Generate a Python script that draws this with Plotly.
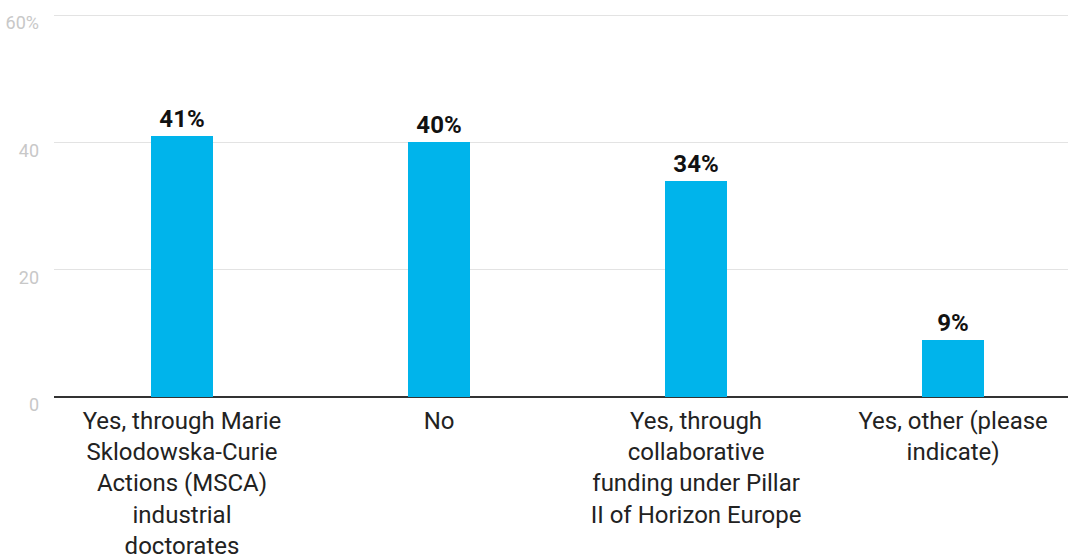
import plotly.graph_objects as go

categories = [
    "Yes, through Marie<br>Sklodowska-Curie<br>Actions (MSCA)<br>industrial<br>doctorates",
    "No",
    "Yes, through<br>collaborative<br>funding under Pillar<br>II of Horizon Europe",
    "Yes, other (please<br>indicate)",
]
values = [41, 40, 34, 9]
labels = ["41%", "40%", "34%", "9%"]
tick_vals = [0, 20, 40, 60]
tick_text = ["0", "20", "40", "60%"]

fig = go.Figure(
    go.Bar(
        x=list(range(len(categories))),
        y=values,
        text=labels,
        textposition="outside",
        cliponaxis=False,
        width=0.241,
        marker=dict(color="#00b4eb", line=dict(width=0)),
        textfont=dict(family="Roboto", size=24, color="#111111", weight="bold"),
    )
)

fig.update_layout(
    width=1070,
    height=559,
    margin=dict(l=54, r=2, t=12, b=162, autoexpand=False),
    plot_bgcolor="white",
    paper_bgcolor="white",
    showlegend=False,
    font=dict(family="Roboto", color="#222222"),
    bargap=0,
)
fig.update_xaxes(
    tickmode="array",
    tickvals=list(range(len(categories))),
    ticktext=categories,
    range=[-0.498, 3.447],
    tickfont=dict(size=24, color="#222222"),
    showgrid=False,
    showline=False,
    ticks="",
    ticklabelstandoff=7,
    automargin=False,
)
fig.update_yaxes(
    range=[0, 60.5],
    tickmode="array",
    tickvals=tick_vals,
    ticktext=tick_text,
    tickfont=dict(size=18, color="#c8c8c8"),
    gridcolor="#e3e3e3",
    gridwidth=1,
    zeroline=True,
    zerolinecolor="#333333",
    zerolinewidth=1.5,
    ticks="",
    ticklabelshift=8,
    ticklabelstandoff=14,
    automargin=False,
)

fig.write_html(
    "out.html",
    config={"displayModeBar": False},
    post_script="document.body.style.margin='0';document.body.style.overflow='hidden';",
)
